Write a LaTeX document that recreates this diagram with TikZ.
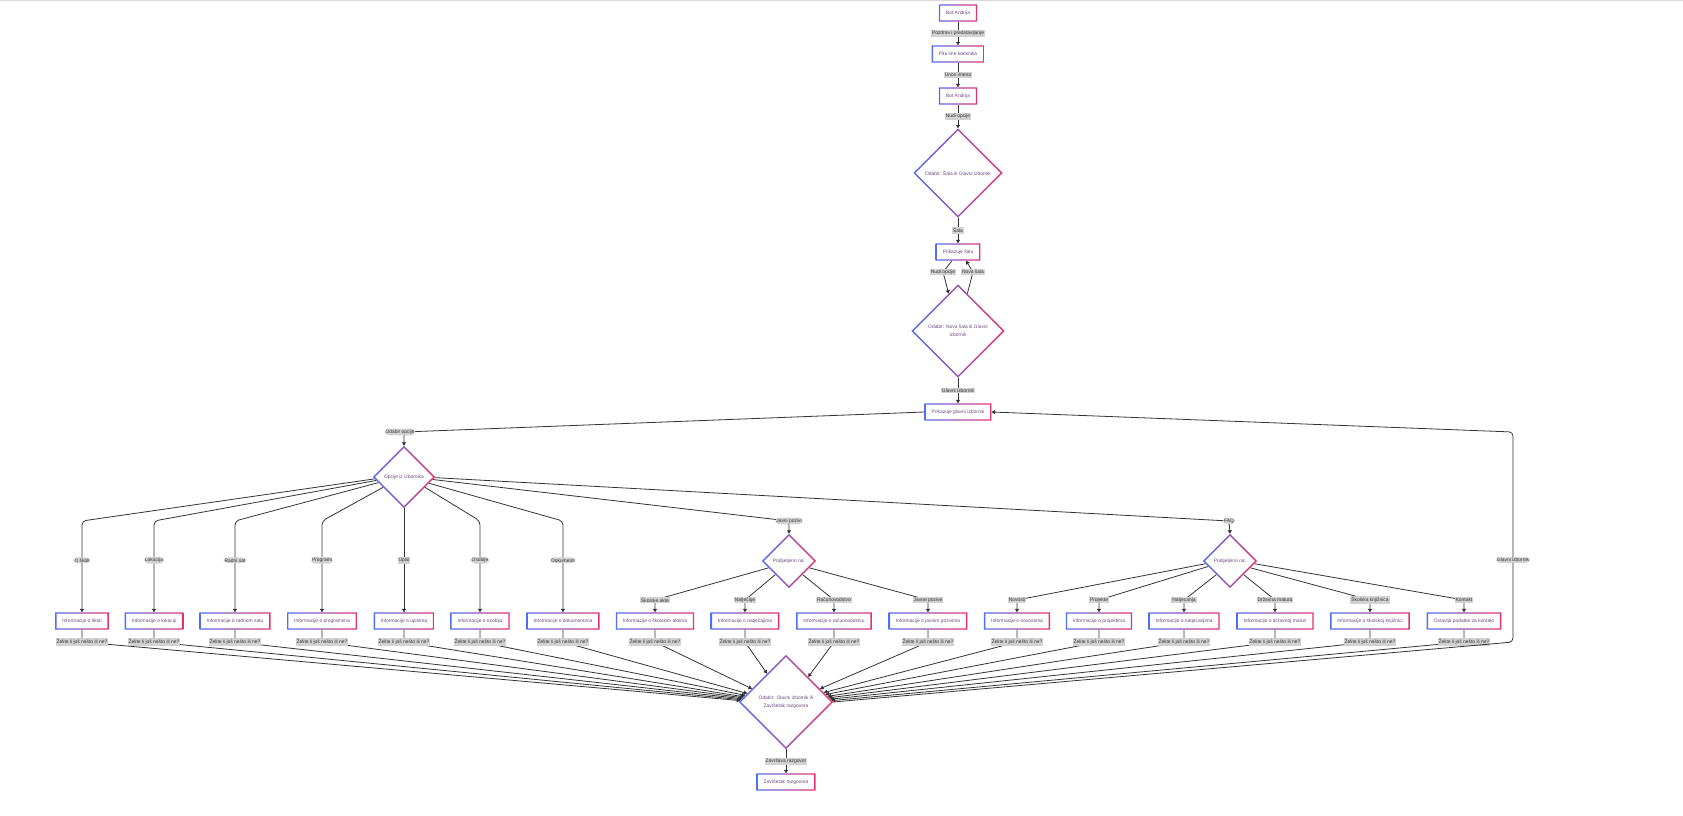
\documentclass[tikz,border=0pt]{standalone}
\usepackage{fontspec}
\setmainfont{Liberation Sans}
\usetikzlibrary{shapes.geometric,arrows.meta,calc}
\definecolor{gb}{HTML}{4F6EF7}
\definecolor{gp}{HTML}{EC2F6B}
\definecolor{txtc}{HTML}{6A4A7E}
\definecolor{labbg}{HTML}{D2D2D2}
\definecolor{labtxt}{HTML}{333333}
\definecolor{linec}{HTML}{333333}
\newcommand\nfont{\fontsize{4.9}{6}\selectfont}
\newcommand\dfont{\fontsize{4.9}{8}\selectfont}
\newcommand\gradrect[1]{\shade[left color=gb,right color=gp,even odd rule] (#1.north west) rectangle (#1.south east) ([xshift=1.4pt,yshift=-1.4pt]#1.north west) rectangle ([xshift=-1.4pt,yshift=1.4pt]#1.south east);}
\newcommand\graddia[1]{\shade[left color=gb,right color=gp,even odd rule] (#1.north) -- (#1.east) -- (#1.south) -- (#1.west) -- cycle ([yshift=-2pt]#1.north) -- ([xshift=-2pt]#1.east) -- ([yshift=2pt]#1.south) -- ([xshift=2pt]#1.west) -- cycle;}
\tikzset{
  box/.style={rectangle, fill=white, minimum height=17pt, inner xsep=7pt, inner ysep=0pt, font=\nfont, text=txtc},
  dia/.style={diamond, fill=white, shape aspect=1, inner sep=0pt, font=\dfont, text=txtc, align=center},
  lab/.style={fill=labbg, inner sep=1pt, font=\nfont, text=labtxt},
  arr/.style={draw=linec, line width=0.8pt, -{Triangle[length=3.5pt,width=4pt]}},
  rc/.style={rounded corners=4pt},
}
\begin{document}
\begin{tikzpicture}[x=1pt,y=-1pt]
\useasboundingbox (0,0) rectangle (1683,816);
\draw[gray!30, line width=1pt] (0,0.5) -- (1683,0.5);

% top chain
\node[box] (b1) at (958,13) {Bot Andrija};
\node[box] (b2) at (958,54) {Pita ime korisnika};
\node[box] (b3) at (958,96) {Bot Andrija};
\node[dia, minimum width=89pt, minimum height=89pt] (d1) at (958,173) {Odabir: Šala ili Glavni izbornik};
\node[box] (b4) at (958,252) {Prikazuje šalu};
\node[dia, minimum width=93pt, minimum height=93pt] (d2) at (958,331) {Odabir: Nova šala ili Glavni\\izbornik};
\node[box] (b5) at (958,412) {Prikazuje glavni izbornik};
\node[dia, minimum width=62pt, minimum height=62pt] (d3) at (404,477) {Opcije iz izbornika};

% row boxes
\node[box] (s1) at (82,621) {Informacije o školi};
\node[box] (s2) at (154,621) {Informacije o lokaciji};
\node[box] (s3) at (235,621) {Informacije o radnom satu};
\node[box] (s4) at (322,621) {Informacije o programima};
\node[box] (s5) at (404,621) {Informacije o upisima};
\node[box] (s6) at (480,621) {Informacije o osobiju};
\node[box] (s7) at (563,621) {Informacije o dokumentima};
\node[dia, minimum width=54pt, minimum height=54pt] (dj) at (789,561) {Podijeljeno na:};
\node[box] (j1) at (655,621) {Informacije o školskim aktima};
\node[box] (j2) at (745,621) {Informacije o natječajima};
\node[box] (j3) at (834,621) {Informacije o računovodstvu};
\node[box] (j4) at (928,621) {Informacije o javnim pozivima};
\node[dia, minimum width=54pt, minimum height=54pt] (df) at (1230,561) {Podijeljeno na:};
\node[box] (f1) at (1017,621) {Informacije o novostima};
\node[box] (f2) at (1099,621) {Informacije o projektima};
\node[box] (f3) at (1184,621) {Informacije o natjecanjima};
\node[box] (f4) at (1275,621) {Informacije o državnoj maturi};
\node[box] (f5) at (1370,621) {Informacije o školskoj knjižnici};
\node[box] (f6) at (1464,621) {Ostavlja podatke za kontakt};
\node[dia, minimum width=94pt, minimum height=94pt] (dz) at (786,702) {Odabir: Glavni izbornik ili\\Završetak razgovora};
\node[box] (bz) at (786,782) {Završetak razgovora};

% top edges
\draw[arr] (b1) -- node[lab]{Pozdrav i predstavljanje} (b2);
\draw[arr] (b2) -- node[lab]{Unos imena} (b3);
\draw[arr] (b3) -- node[lab]{Nudi opcije} (d1);
\draw[arr] (d1) -- node[lab]{Šala} (b4);
\coordinate (c1) at (943,272);
\coordinate (c2) at (973,272);
\draw[arr] ([xshift=-6pt]b4.south) -- (c1) node[lab]{Nudi opcije} -- ($(d2.north)!0.2!(d2.west)$);
\draw[arr] ($(d2.north)!0.2!(d2.east)$) -- (c2) node[lab]{Nova šala} -- ([xshift=8pt]b4.south);
\draw[arr] (d2) -- node[lab]{Glavni izbornik} (b5);
\draw[arr,rc] (b5.west) -- (404,432) node[lab,xshift=-4pt]{Odabir opcije} -- (d3.north);

% menu branches
\draw[arr,rc] ($(d3.west)!0.06!(d3.south)$) -- (82,521) -- node[lab,pos=0.43]{O školi} (s1.north);
\draw[arr,rc] ($(d3.west)!0.11!(d3.south)$) -- (154,521) -- node[lab,pos=0.43]{Lokacija} (s2.north);
\draw[arr,rc] ($(d3.west)!0.18!(d3.south)$) -- (235,521) -- node[lab,pos=0.43]{Radni sat} (s3.north);
\draw[arr,rc] ($(d3.west)!0.33!(d3.south)$) -- (322,521) -- node[lab,pos=0.43]{Programi} (s4.north);
\draw[arr] (d3.south) -- node[lab,pos=0.5]{Upisi} (s5.north);
\draw[arr,rc] ($(d3.east)!0.33!(d3.south)$) -- (480,521) -- node[lab,pos=0.43]{Osobije} (s6.north);
\draw[arr,rc] ($(d3.east)!0.2!(d3.south)$) -- (563,521) -- node[lab,pos=0.43]{Dokumenti} (s7.north);
\draw[arr,rc] ($(d3.east)!0.08!(d3.south)$) -- (789,521) node[lab]{Javni pozivi} -- (dj.north);
\draw[arr,rc] ($(d3.east)!0.02!(d3.south)$) -- (1229,521) node[lab]{FAQ} -- (df.north);

% javni pozivi children
\draw[arr] ($(dj.west)!0.25!(dj.south)$) -- (655,600) node[lab]{Školske akte} -- (j1.north);
\draw[arr] ($(dj.west)!0.5!(dj.south)$) -- (745,600) node[lab]{Natječaje} -- (j2.north);
\draw[arr] ($(dj.east)!0.5!(dj.south)$) -- (834,600) node[lab]{Računovodstvo} -- (j3.north);
\draw[arr] ($(dj.east)!0.25!(dj.south)$) -- (928,600) node[lab]{Javne pozive} -- (j4.north);

% faq children
\draw[arr] ($(df.west)!0.1!(df.south)$) -- (1017,600) node[lab]{Novosti} -- (f1.north);
\draw[arr] ($(df.west)!0.2!(df.south)$) -- (1099,600) node[lab]{Projekte} -- (f2.north);
\draw[arr] ($(df.west)!0.5!(df.south)$) -- (1184,600) node[lab]{Natjecanja} -- (f3.north);
\draw[arr] ($(df.east)!0.5!(df.south)$) -- (1275,600) node[lab]{Državna matura} -- (f4.north);
\draw[arr] ($(df.east)!0.25!(df.south)$) -- (1370,600) node[lab]{Školska knjižnica} -- (f5.north);
\draw[arr] ($(df.east)!0.1!(df.south)$) -- (1464,600) node[lab]{Kontakt} -- (f6.north);

% zelite edges
\draw[arr] (s1.south) -- (82,642) -- ($(dz.west)!0.03!(dz.north)$);
\draw[arr] (s2.south) -- (154,642) -- ($(dz.west)!0.05!(dz.north)$);
\draw[arr] (s3.south) -- (235,642) -- ($(dz.west)!0.07!(dz.north)$);
\draw[arr] (s4.south) -- (322,642) -- ($(dz.west)!0.09!(dz.north)$);
\draw[arr] (s5.south) -- (404,642) -- ($(dz.west)!0.11!(dz.north)$);
\draw[arr] (s6.south) -- (480,642) -- ($(dz.west)!0.14!(dz.north)$);
\draw[arr] (s7.south) -- (563,642) -- ($(dz.west)!0.18!(dz.north)$);
\draw[arr] (j1.south) -- (655,642) -- ($(dz.west)!0.28!(dz.north)$);
\draw[arr] (j2.south) -- (745,642) -- ($(dz.west)!0.6!(dz.north)$);
\draw[arr] (j3.south) -- (834,642) -- ($(dz.north)!0.47!(dz.east)$);
\draw[arr] (j4.south) -- (928,642) -- ($(dz.north)!0.72!(dz.east)$);
\draw[arr] (f1.south) -- (1017,642) -- ($(dz.north)!0.8!(dz.east)$);
\draw[arr] (f2.south) -- (1099,642) -- ($(dz.north)!0.84!(dz.east)$);
\draw[arr] (f3.south) -- (1184,642) -- ($(dz.north)!0.88!(dz.east)$);
\draw[arr] (f4.south) -- (1275,642) -- ($(dz.north)!0.91!(dz.east)$);
\draw[arr] (f5.south) -- (1370,642) -- ($(dz.north)!0.94!(dz.east)$);
\draw[arr] (f6.south) -- (1464,642) -- ($(dz.north)!0.97!(dz.east)$);
\foreach \x in {82,154,235,322,404,480,563,655,745,834,928,1017,1099,1184,1275,1370,1464}
  \node[lab] at (\x,642) {Želite li još nešto ili ne?};

\draw[arr] (dz) -- node[lab]{Završava razgovor} (bz);
\draw[arr,rc] (dz.east) -- (1513,642) -- node[lab,pos=0.39]{Glavni izbornik} (1513,432) -- (b5.east);

% gradient borders
\foreach \n in {b1,b2,b3,b4,b5,s1,s2,s3,s4,s5,s6,s7,j1,j2,j3,j4,f1,f2,f3,f4,f5,f6,bz} {\gradrect{\n}}
\foreach \n in {d1,d2,d3,dj,df,dz} {\graddia{\n}}
\end{tikzpicture}
\end{document}
